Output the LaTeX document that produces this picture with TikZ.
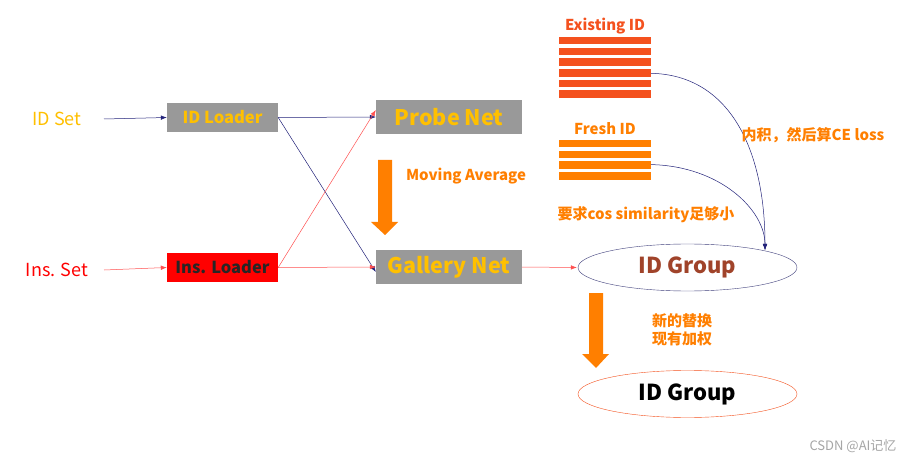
\documentclass[tikz,border=0pt]{standalone}
\usepackage{fontspec}
\setmainfont{Noto Sans CJK SC}
\usetikzlibrary{shapes.geometric,arrows.meta}
\definecolor{gold}{HTML}{FFC000}
\definecolor{boxgray}{HTML}{999999}
\definecolor{orng}{HTML}{FF7F00}
\definecolor{redor}{HTML}{F4511E}
\definecolor{navy}{HTML}{23237A}
\definecolor{brownred}{HTML}{A0432A}
\definecolor{lred}{HTML}{FF5050}
\tikzset{
  box/.style={rectangle, inner sep=0pt, font=\bfseries},
  smallbox/.style={box, minimum width=111, minimum height=29, font=\bfseries\fontsize{16.5}{16.5}\selectfont},
  bigbox/.style={box, fill=boxgray, minimum width=146, minimum height=34, text=gold, font=\bfseries\fontsize{21.5}{21.5}\selectfont},
  navyline/.style={navy, line width=0.5pt},
  redline/.style={lred, line width=0.5pt},
  tip/.style={-{Latex[length=6pt,width=4.5pt]}},
  grp/.style={ellipse, inner sep=0pt, minimum width=219, minimum height=47, font=\bfseries\fontsize{22}{22}\selectfont},
  lbl/.style={font=\bfseries\fontsize{15}{17}\selectfont, text=orng, inner sep=0pt},
}
\begin{document}
\begin{tikzpicture}[x=1pt,y=-1pt]
\useasboundingbox (0,0) rectangle (904,462);
\fill[white] (0,0) rectangle (904,462);
% inputs
\node[text=gold, font=\fontsize{18}{18}\selectfont, inner sep=0pt] (idset) at (57,119) {ID Set};
\node[text=red, font=\fontsize{18}{18}\selectfont, inner sep=0pt] (insset) at (57,270) {Ins. Set};
\node[smallbox, fill=boxgray, text=gold] (idl) at (222.5,117.5) {ID Loader};
\node[smallbox, fill=red, text=black!85] (insl) at (222.5,267.5) {Ins. Loader};
\node[bigbox] (probe) at (449,117) {Probe Net};
\node[bigbox] (gallery) at (449,267) {Gallery Net};
\coordinate (a1) at (104,119);
\coordinate (a2) at (104,270);
\draw[navyline, tip] (a1) -- (idl.west);
\draw[redline, tip] (a2) -- (insl.west);
% connections
\draw[navyline, tip] (idl.east) -- (probe.west);
\draw[navyline, tip] (idl.east) -- ([yshift=-5]gallery.west);
\draw[redline, tip] (insl.east) -- ([yshift=7]probe.west);
\draw[redline, tip] (insl.east) -- (gallery.west);
% moving average arrow
\fill[orng] (378,160) -- (392,160) -- (392,222) -- (398,222) -- (385,235) -- (371,222) -- (378,222) -- cycle;
\node[lbl] (mavg) at (466,176) {Moving Average};
% ID groups
\node[grp, draw=navy!70!gray, text=brownred] (idg) at (687.5,267.5) {ID Group};
\node[grp, draw=redor, text=black] (idg2) at (687.5,394) {ID Group};
\draw[redline, tip] (gallery.east) -- ([xshift=-1]idg.west);
\fill[orng] (589,293) -- (603,293) -- (603,354) -- (609,354) -- (596,368) -- (582,354) -- (589,354) -- cycle;
\node[lbl, align=left, font=\bfseries\fontsize{15}{18}\selectfont] (repl) at (682,330) {新的替换\\现有加权};
% existing ID bars
\node[font=\bfseries\fontsize{15}{15}\selectfont, text=redor, inner sep=0pt] (exist) at (605,26) {Existing ID};
\foreach \i in {0,...,5} {
  \fill[redor] (559,37+10.7*\i) rectangle (651,44.5+10.7*\i);
}
\node[font=\bfseries\fontsize{15}{15}\selectfont, text=orng, inner sep=0pt] (fresh) at (605,129) {Fresh ID};
\foreach \i in {0,...,3} {
  \fill[orng] (559,140+10.7*\i) rectangle (651,147.5+10.7*\i);
}
\coordinate (e4) at (651,73.3);
\coordinate (f3) at (651,164.6);
\coordinate (hit) at (765,250);
\draw[navyline, tip] (e4) .. controls (730,75) and (765,150) .. (hit);
\draw[navyline, tip] (f3) .. controls (720,166) and (765,210) .. (hit);
\node[lbl] (ce) at (813,135) {内积，然后算CE loss};
\node[lbl] (cos) at (646,215) {要求cos similarity足够小};
% watermark
\node[text=gray!70, font=\fontsize{13}{13}\selectfont, inner sep=0pt] (wm) at (853,446) {CSDN @AI记忆};
\end{tikzpicture}
\end{document}
